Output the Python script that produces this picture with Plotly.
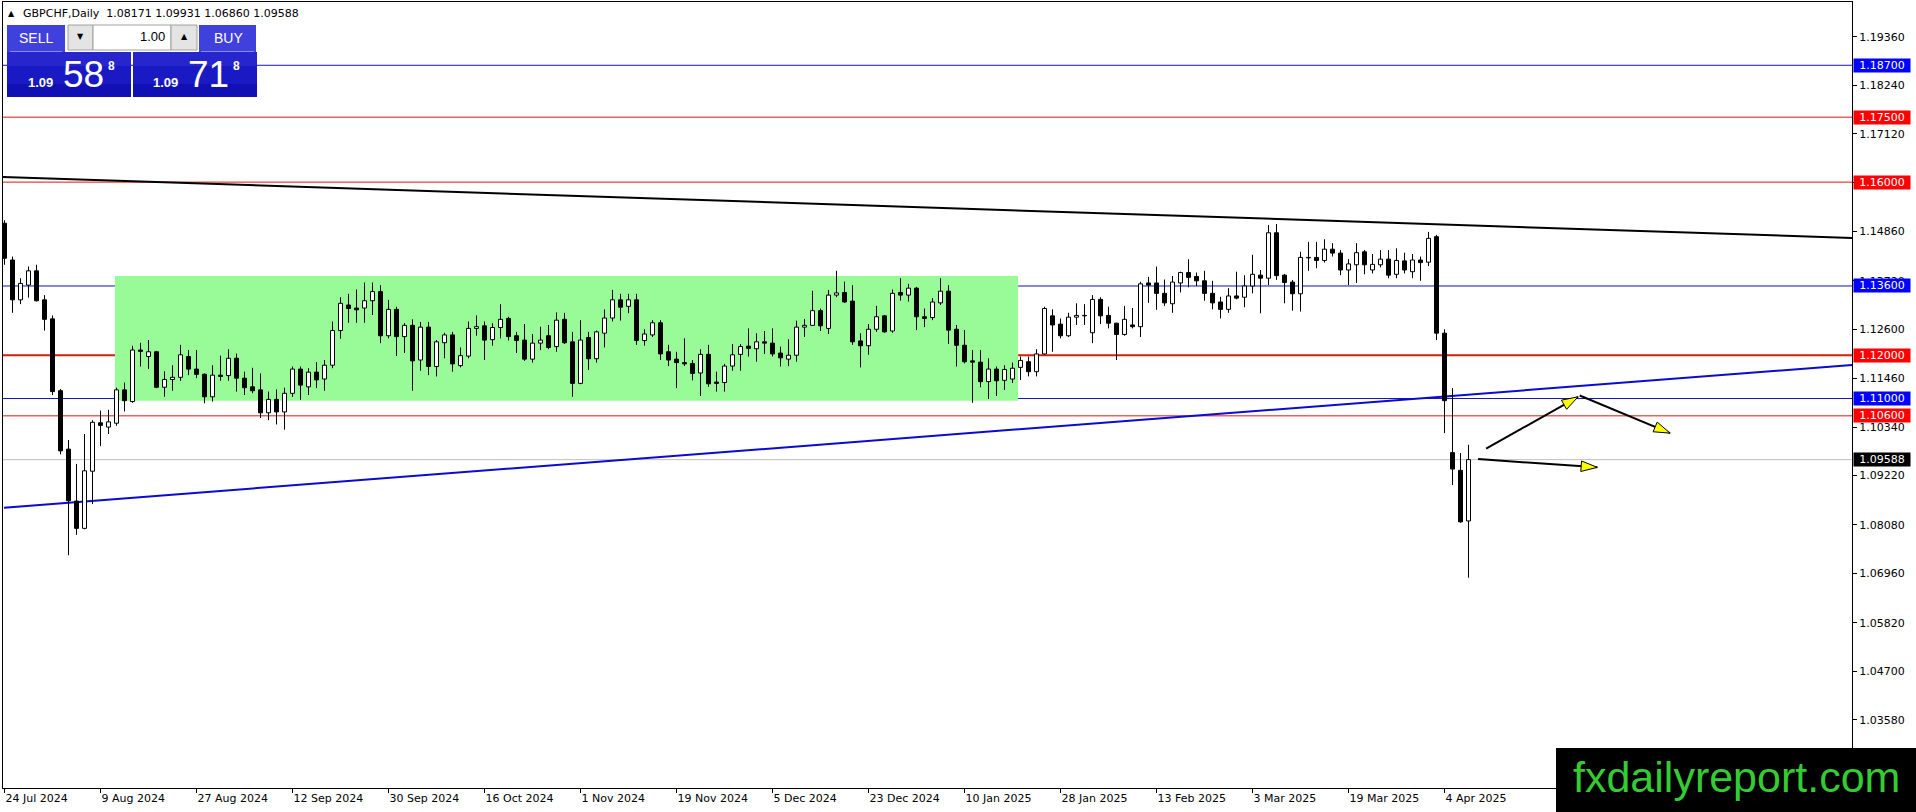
import math
import pandas as pd
import plotly.graph_objects as go

# ---------------- data ----------------
SYMBOL_TITLE = "GBPCHF,Daily"
HEADER_OHLC = ["1.08171", "1.09931", "1.06860", "1.09588"]
FIRST_SESSION = "2024-07-24"
HOLIDAYS = ["2024-12-25", "2025-01-01"]

OPEN = [1.1505, 1.1420, 1.1328, 1.1362, 1.1395, 1.1328, 1.1284, 1.1118, 1.0983, 1.0863,
        1.0800, 1.0932, 1.1044, 1.1034, 1.1043, 1.1120, 1.1093, 1.1212, 1.1197, 1.1208,
        1.1126, 1.1144, 1.1149, 1.1197, 1.1168, 1.1156, 1.1104, 1.1154, 1.1153, 1.1193,
        1.1147, 1.1127, 1.1120, 1.1067, 1.1098, 1.1069, 1.1112, 1.1168, 1.1127, 1.1161,
        1.1145, 1.1177, 1.1257, 1.1316, 1.1309, 1.1309, 1.1326, 1.1347, 1.1245, 1.1306,
        1.1243, 1.1269, 1.1189, 1.1265, 1.1174, 1.1229, 1.1247, 1.1176, 1.1198, 1.1262,
        1.1268, 1.1236, 1.1264, 1.1285, 1.1245, 1.1235, 1.1191, 1.1228, 1.1245, 1.1220,
        1.1283, 1.1231, 1.1135, 1.1241, 1.1192, 1.1251, 1.1286, 1.1328, 1.1313, 1.1328,
        1.1234, 1.1247, 1.1275, 1.1208, 1.1191, 1.1183, 1.1181, 1.1159, 1.1202, 1.1138,
        1.1137, 1.1175, 1.1202, 1.1221, 1.1215, 1.1231, 1.1228, 1.1205, 1.1191, 1.1200,
        1.1265, 1.1269, 1.1303, 1.1262, 1.1339, 1.1345, 1.1325, 1.1233, 1.1222, 1.1260,
        1.1291, 1.1256, 1.1345, 1.1339, 1.1355, 1.1289, 1.1287, 1.1321, 1.1348, 1.1260,
        1.1223, 1.1187, 1.1184, 1.1139, 1.1168, 1.1142, 1.1145, 1.1172, 1.1185, 1.1162,
        1.1203, 1.1291, 1.1272, 1.1245, 1.1288, 1.1292, 1.1252, 1.1329, 1.1292, 1.1274,
        1.1248, 1.1270, 1.1266, 1.1367, 1.1367, 1.1343, 1.1319, 1.1367, 1.1391, 1.1382,
        1.1372, 1.1343, 1.1323, 1.1306, 1.1337, 1.1334, 1.1360, 1.1385, 1.1378, 1.1483,
        1.1385, 1.1369, 1.1342, 1.1426, 1.1426, 1.1419, 1.1445, 1.1436, 1.1397, 1.1409,
        1.1439, 1.1397, 1.1409, 1.1422, 1.1387, 1.1418, 1.1393, 1.1420, 1.1415, 1.1474,
        1.1251, 1.0975, 1.0934, 1.08171]
HIGH = [1.1512, 1.1428, 1.1378, 1.1405, 1.1409, 1.1339, 1.1292, 1.1122, 1.1004, 1.0949,
        1.1018, 1.1050, 1.1072, 1.1074, 1.1125, 1.1137, 1.1222, 1.1229, 1.1235, 1.1210,
        1.1163, 1.1177, 1.1224, 1.1212, 1.1212, 1.1158, 1.1177, 1.1199, 1.1214, 1.1204,
        1.1162, 1.1171, 1.1158, 1.1116, 1.1121, 1.1125, 1.1174, 1.1174, 1.1170, 1.1184,
        1.1189, 1.1278, 1.1334, 1.1342, 1.1352, 1.1368, 1.1368, 1.1362, 1.1328, 1.1312,
        1.1274, 1.1283, 1.1277, 1.1277, 1.1235, 1.1252, 1.1254, 1.1218, 1.1278, 1.1292,
        1.1278, 1.1274, 1.1318, 1.1289, 1.1254, 1.1272, 1.1249, 1.1266, 1.1270, 1.1299,
        1.1298, 1.1254, 1.1281, 1.1254, 1.1257, 1.1306, 1.1351, 1.1342, 1.1342, 1.1342,
        1.1260, 1.1281, 1.1281, 1.1224, 1.1208, 1.1239, 1.1189, 1.1214, 1.1224, 1.1162,
        1.1180, 1.1226, 1.1226, 1.1262, 1.1251, 1.1256, 1.1262, 1.1220, 1.1237, 1.1280,
        1.1284, 1.1349, 1.1308, 1.1351, 1.1395, 1.1370, 1.1362, 1.1251, 1.1272, 1.1314,
        1.1293, 1.1352, 1.1378, 1.1365, 1.1358, 1.1308, 1.1332, 1.1378, 1.1362, 1.1270,
        1.1258, 1.1212, 1.1212, 1.1193, 1.1174, 1.1177, 1.1183, 1.1197, 1.1197, 1.1214,
        1.1312, 1.1306, 1.1285, 1.1298, 1.1320, 1.1318, 1.1339, 1.1334, 1.1312, 1.1275,
        1.1314, 1.1309, 1.1370, 1.1381, 1.1405, 1.1375, 1.1383, 1.1393, 1.1422, 1.1391,
        1.1395, 1.1372, 1.1335, 1.1355, 1.1393, 1.1385, 1.1432, 1.1397, 1.1501, 1.1503,
        1.1388, 1.1374, 1.1439, 1.1462, 1.1462, 1.1468, 1.1459, 1.1443, 1.1422, 1.1459,
        1.1443, 1.1434, 1.1443, 1.1443, 1.1447, 1.1437, 1.1434, 1.1428, 1.1485, 1.1478,
        1.1260, 1.1124, 1.0974, 1.09931]
LOW = [1.1409, 1.1298, 1.1318, 1.1333, 1.1324, 1.1257, 1.1108, 1.0971, 1.0738, 1.0785,
       1.0798, 1.0856, 1.0990, 1.1018, 1.1037, 1.1070, 1.1090, 1.1174, 1.1168, 1.1124,
       1.1104, 1.1118, 1.1141, 1.1154, 1.1147, 1.1089, 1.1093, 1.1141, 1.1141, 1.1116,
       1.1108, 1.1112, 1.1055, 1.1050, 1.1040, 1.1028, 1.1104, 1.1097, 1.1108, 1.1124,
       1.1118, 1.1170, 1.1238, 1.1275, 1.1275, 1.1275, 1.1293, 1.1228, 1.1239, 1.1198,
       1.1205, 1.1118, 1.1164, 1.1154, 1.1151, 1.1193, 1.1162, 1.1172, 1.1193, 1.1245,
       1.1189, 1.1222, 1.1239, 1.1234, 1.1205, 1.1187, 1.1183, 1.1212, 1.1214, 1.1208,
       1.1226, 1.1104, 1.1133, 1.1166, 1.1183, 1.1218, 1.1278, 1.1280, 1.1297, 1.1224,
       1.1222, 1.1242, 1.1189, 1.1175, 1.1124, 1.1175, 1.1142, 1.1106, 1.1127, 1.1116,
       1.1116, 1.1164, 1.1164, 1.1197, 1.1185, 1.1203, 1.1197, 1.1174, 1.1175, 1.1185,
       1.1242, 1.1268, 1.1256, 1.1249, 1.1334, 1.1321, 1.1224, 1.1172, 1.1201, 1.1254,
       1.1252, 1.1252, 1.1326, 1.1324, 1.1258, 1.1265, 1.1281, 1.1316, 1.1226, 1.1174,
       1.1181, 1.1090, 1.1126, 1.1099, 1.1106, 1.1120, 1.1136, 1.1143, 1.1151, 1.1151,
       1.1200, 1.1208, 1.1239, 1.1242, 1.1270, 1.1270, 1.1228, 1.1272, 1.1262, 1.1189,
       1.1245, 1.1262, 1.1242, 1.1321, 1.1305, 1.1314, 1.1298, 1.1345, 1.1357, 1.1360,
       1.1326, 1.1306, 1.1285, 1.1298, 1.1329, 1.1311, 1.1343, 1.1297, 1.1362, 1.1374,
       1.1320, 1.1303, 1.1301, 1.1395, 1.1401, 1.1414, 1.1428, 1.1385, 1.1362, 1.1367,
       1.1387, 1.1389, 1.1403, 1.1378, 1.1378, 1.1389, 1.1378, 1.1372, 1.1406, 1.1235,
       1.1020, 1.0900, 1.0813, 1.06860]
CLOSE = [1.1424, 1.1328, 1.1366, 1.1395, 1.1326, 1.1283, 1.1116, 1.0979, 1.0864, 1.0800,
         1.0933, 1.1045, 1.1038, 1.1046, 1.1120, 1.1095, 1.1212, 1.1209, 1.1208, 1.1126,
         1.1144, 1.1149, 1.1201, 1.1168, 1.1156, 1.1104, 1.1154, 1.1151, 1.1193, 1.1147,
         1.1125, 1.1118, 1.1067, 1.1098, 1.1069, 1.1112, 1.1168, 1.1131, 1.1161, 1.1143,
         1.1177, 1.1257, 1.1320, 1.1308, 1.1305, 1.1326, 1.1347, 1.1245, 1.1306, 1.1243,
         1.1269, 1.1187, 1.1265, 1.1174, 1.1231, 1.1247, 1.1180, 1.1199, 1.1262, 1.1266,
         1.1235, 1.1264, 1.1283, 1.1243, 1.1234, 1.1191, 1.1228, 1.1235, 1.1218, 1.1281,
         1.1229, 1.1135, 1.1235, 1.1192, 1.1254, 1.1286, 1.1328, 1.1311, 1.1328, 1.1234,
         1.1249, 1.1275, 1.1203, 1.1189, 1.1183, 1.1180, 1.1158, 1.1202, 1.1134, 1.1135,
         1.1175, 1.1201, 1.1220, 1.1216, 1.1231, 1.1228, 1.1203, 1.1194, 1.1200, 1.1265,
         1.1269, 1.1303, 1.1268, 1.1339, 1.1344, 1.1323, 1.1231, 1.1222, 1.1260, 1.1289,
         1.1254, 1.1343, 1.1339, 1.1355, 1.1289, 1.1285, 1.1323, 1.1348, 1.1258, 1.1223,
         1.1185, 1.1184, 1.1139, 1.1168, 1.1141, 1.1167, 1.1170, 1.1188, 1.1162, 1.1203,
         1.1308, 1.1270, 1.1245, 1.1288, 1.1292, 1.1291, 1.1329, 1.1291, 1.1274, 1.1248,
         1.1283, 1.1266, 1.1365, 1.1362, 1.1343, 1.1321, 1.1369, 1.1391, 1.1380, 1.1372,
         1.1343, 1.1321, 1.1306, 1.1337, 1.1332, 1.1360, 1.1387, 1.1378, 1.1483, 1.1384,
         1.1368, 1.1342, 1.1426, 1.1425, 1.1419, 1.1445, 1.1436, 1.1397, 1.1411, 1.1437,
         1.1409, 1.1410, 1.1422, 1.1385, 1.1419, 1.1397, 1.1420, 1.1414, 1.1470, 1.1251,
         1.1095, 1.0937, 1.0815, 1.09588]

X_TICK_LABELS = ["24 Jul 2024", "9 Aug 2024", "27 Aug 2024", "12 Sep 2024", "30 Sep 2024",
                 "16 Oct 2024", "1 Nov 2024", "19 Nov 2024", "5 Dec 2024", "23 Dec 2024",
                 "10 Jan 2025", "28 Jan 2025", "13 Feb 2025", "3 Mar 2025", "19 Mar 2025",
                 "4 Apr 2025"]
Y_TICKS = [1.19360, 1.18240, 1.17120, 1.16000, 1.14860, 1.13720, 1.12600, 1.11460,
           1.10340, 1.09220, 1.08080, 1.06960, 1.05820, 1.04700, 1.03580]

LEVEL_PRICES = [1.18700, 1.17500, 1.16000, 1.13600, 1.12000, 1.11000, 1.10600]
LEVEL_KINDS = ["blue", "red", "red", "blue", "red_thick", "blue", "red"]
BID_PRICE = 1.09588

ZONE_BARS = [13.8, 126.7]
ZONE_PRICES = [1.1095, 1.1383]
TREND_DOWN_BARS = [-0.19, 230.94]
TREND_DOWN_PRICES = [1.16118, 1.14709]
TREND_UP_BARS = [-0.06, 230.94]
TREND_UP_PRICES = [1.08478, 1.11775]
ARROW_START_BARS = [185.2, 196.9, 184.2]
ARROW_START_PRICES = [1.0984, 1.1107, 1.0960]
ARROW_END_BARS = [196.7, 208.2, 199.1]
ARROW_END_PRICES = [1.1104, 1.1020, 1.0941]

LOT_TEXT = "1.00"
SELL_QUOTE = ["1.09", "58", "8"]
BUY_QUOTE = ["1.09", "71", "8"]
WATERMARK = "fxdailyreport.com"

# ---------------- layout geometry ----------------
W, H = 1916, 812
ML, MR, MT, MB = 3, 64, 2, 24
PLOT_W, PLOT_H = W - ML - MR, H - MT - MB
BAR_PX = 8.0
X_RANGE = [-0.1875, -0.1875 + PLOT_W / BAR_PX]
Y_RANGE = [1.020007, 1.201618]

FONT = "DejaVu Sans"
BLUE_LINE = "#1414B4"
RED_LINE = "#E01414"
RED_THICK = "#CC2208"


def paper_x(px):
    return (px - ML) / PLOT_W


def paper_y(py):
    return (H - MB - py) / PLOT_H


n = len(OPEN)
idx = list(range(n))
sessions = [d for d in pd.bdate_range(FIRST_SESSION, periods=n + len(HOLIDAYS))
            if d.strftime("%Y-%m-%d") not in HOLIDAYS][:n]
session_labels = [f"{d.day} {d.strftime('%b %Y')}" for d in sessions]
x_tickvals = [session_labels.index(t) for t in X_TICK_LABELS]

fig = go.Figure()

# wicks (split so they do not cross the bodies)
wx, wy = [], []
for i in idx:
    top = max(OPEN[i], CLOSE[i])
    bot = min(OPEN[i], CLOSE[i])
    wx += [i, i, None, i, i, None]
    wy += [HIGH[i], top, None, bot, LOW[i], None]
fig.add_trace(go.Scatter(x=wx, y=wy, mode="lines", line=dict(color="black", width=1),
                         hoverinfo="skip", showlegend=False))

# bodies
fig.add_trace(go.Bar(
    x=idx,
    base=[min(o, c) for o, c in zip(OPEN, CLOSE)],
    y=[abs(c - o) for o, c in zip(OPEN, CLOSE)],
    width=0.5,
    marker=dict(color=["white" if c >= o else "black" for o, c in zip(OPEN, CLOSE)],
                line=dict(color="black", width=1)),
    hoverinfo="skip", showlegend=False,
))

shapes = []
# range zone
shapes.append(dict(type="rect", xref="x", yref="y", x0=ZONE_BARS[0], x1=ZONE_BARS[1],
                   y0=ZONE_PRICES[0], y1=ZONE_PRICES[1], fillcolor="#98FB98",
                   line=dict(width=0), layer="below"))
# horizontal levels
for p, k in zip(LEVEL_PRICES, LEVEL_KINDS):
    col = BLUE_LINE if k == "blue" else (RED_THICK if k == "red_thick" else RED_LINE)
    wdt = 2 if k == "red_thick" else 1
    shapes.append(dict(type="line", xref="paper", yref="y", x0=0, x1=1, y0=p, y1=p,
                       line=dict(color=col, width=wdt), layer="below"))
shapes.append(dict(type="line", xref="paper", yref="y", x0=0, x1=1, y0=BID_PRICE, y1=BID_PRICE,
                   line=dict(color="#C0C0C0", width=1), layer="below"))
# trend lines
shapes.append(dict(type="line", xref="x", yref="y", x0=TREND_DOWN_BARS[0], x1=TREND_DOWN_BARS[1],
                   y0=TREND_DOWN_PRICES[0], y1=TREND_DOWN_PRICES[1],
                   line=dict(color="black", width=2), layer="below"))
shapes.append(dict(type="line", xref="x", yref="y", x0=TREND_UP_BARS[0], x1=TREND_UP_BARS[1],
                   y0=TREND_UP_PRICES[0], y1=TREND_UP_PRICES[1],
                   line=dict(color="#0A0AD2", width=2), layer="below"))
# arrow shafts
for x0, y0, x1, y1 in zip(ARROW_START_BARS, ARROW_START_PRICES, ARROW_END_BARS, ARROW_END_PRICES):
    shapes.append(dict(type="line", xref="x", yref="y", x0=x0, x1=x1, y0=y0, y1=y1,
                       line=dict(color="black", width=2), layer="below"))

# arrow heads
px_per_x = PLOT_W / (X_RANGE[1] - X_RANGE[0])
px_per_y = PLOT_H / (Y_RANGE[1] - Y_RANGE[0])
angles = []
for x0, y0, x1, y1 in zip(ARROW_START_BARS, ARROW_START_PRICES, ARROW_END_BARS, ARROW_END_PRICES):
    dx = (x1 - x0) * px_per_x
    dy = -(y1 - y0) * px_per_y
    angles.append(math.degrees(math.atan2(dx, -dy)))
fig.add_trace(go.Scatter(x=ARROW_END_BARS, y=ARROW_END_PRICES, mode="markers",
                         marker=dict(symbol="arrow", size=17, angle=angles, color="#FFFF00",
                                     line=dict(color="black", width=1)),
                         hoverinfo="skip", showlegend=False))

# ---- trading panel (decoration in paper coords) ----
def prect(x0, y0, x1, y1, fill, line_col=None):
    shapes.append(dict(type="rect", xref="paper", yref="paper",
                       x0=paper_x(x0), x1=paper_x(x1), y0=paper_y(y1), y1=paper_y(y0),
                       fillcolor=fill, layer="above",
                       line=dict(color=line_col or fill, width=1 if line_col else 0)))

prect(7, 25, 65, 52, "#4040DC")
prect(199, 25, 256, 52, "#4040DC")
prect(7, 52, 131, 97, "#1A1AC4")
prect(133, 52, 257, 97, "#1A1AC4")
prect(7, 52, 131, 66, "#2626CC")
prect(133, 52, 257, 66, "#2626CC")
prect(7, 84, 131, 97, "#1010B4")
prect(133, 84, 257, 97, "#1010B4")
prect(68, 25, 93, 50, "#E4E4E4", "#A0A0A0")
prect(93, 25, 171, 50, "#FFFFFF", "#A0A0A0")
prect(171, 25, 197, 50, "#E4E4E4", "#A0A0A0")
for sx0, sx1 in [(10, 62), (201, 254)]:
    shapes.append(dict(type="line", xref="paper", yref="paper", x0=paper_x(sx0), x1=paper_x(sx1),
                       y0=paper_y(51.5), y1=paper_y(51.5), line=dict(color="#8C8CF0", width=1),
                       layer="above"))
# watermark box
prect(1556, 748, 1920, 814, "#000000")

annotations = []


def ptext(text, x, y, size, color="black", xanchor="center", family=FONT, bold=False):
    annotations.append(dict(text=f"<b>{text}</b>" if bold else text, xref="paper", yref="paper",
                            x=paper_x(x), y=paper_y(y), xanchor=xanchor, yanchor="middle",
                            showarrow=False, font=dict(size=size, color=color, family=family)))

ptext("▲", 11, 13, 8)
ptext(SYMBOL_TITLE + "  " + " ".join(HEADER_OHLC), 21, 13, 11, xanchor="left")
ptext("SELL", 36, 38, 14, "white", family="Liberation Sans")
ptext("BUY", 228, 38, 14, "white", family="Liberation Sans")
ptext("▼", 80, 37, 8)
ptext("▲", 184, 37, 8)
ptext(LOT_TEXT, 167, 37, 13, xanchor="right", family="Liberation Sans")
for base_x, q in [(26, SELL_QUOTE), (151, BUY_QUOTE)]:
    ptext(q[0], base_x, 82, 13, "white", xanchor="left", family="Liberation Sans", bold=True)
    ptext(q[1], base_x + 35, 74, 37, "white", xanchor="left", family="Liberation Sans")
    ptext(q[2], base_x + 80, 66, 12, "white", xanchor="left", family="Liberation Sans", bold=True)
ptext(WATERMARK, 1736, 777, 43, "#33CC33", family="Liberation Sans")

# price labels on the axis
for p, k in zip(LEVEL_PRICES, LEVEL_KINDS):
    annotations.append(dict(text=f"{p:.5f}", xref="paper", yref="y", x=1, y=p, xanchor="left",
                            yanchor="middle", xshift=1, showarrow=False, width=56, height=13,
                            borderpad=0, bgcolor="#0000FF" if k == "blue" else "#FF0000",
                            font=dict(size=11, color="white", family=FONT)))
annotations.append(dict(text=f"{BID_PRICE:.5f}", xref="paper", yref="y", x=1, y=BID_PRICE,
                        xanchor="left", yanchor="middle", xshift=1, showarrow=False, width=56,
                        height=13, borderpad=0, bgcolor="#000000",
                        font=dict(size=11, color="white", family=FONT)))

fig.update_layout(
    width=W, height=H,
    margin=dict(l=ML, r=MR, t=MT, b=MB, pad=0),
    paper_bgcolor="white", plot_bgcolor="white",
    font=dict(family=FONT, size=11, color="black"),
    showlegend=False, hovermode=False, barmode="overlay",
    shapes=shapes, annotations=annotations,
    xaxis=dict(range=X_RANGE, showgrid=False, zeroline=False, showline=True, mirror=True,
               linecolor="black", linewidth=1, ticks="outside", ticklen=4, tickcolor="black",
               tickvals=x_tickvals, ticktext=X_TICK_LABELS, ticklabelposition="outside right",
               tickfont=dict(size=11, family=FONT), fixedrange=True),
    yaxis=dict(range=Y_RANGE, side="right", showgrid=False, zeroline=False, showline=True,
               mirror=True, linecolor="black", linewidth=1, ticks="outside", ticklen=4,
               tickcolor="black", tickvals=Y_TICKS, ticktext=[f"{v:.5f}" for v in Y_TICKS],
               tickfont=dict(size=11, family=FONT), fixedrange=True),
)

fig.write_html("out.html", config={"displayModeBar": False},
               post_script="document.body.style.margin='0px';document.body.style.overflow='hidden';")
